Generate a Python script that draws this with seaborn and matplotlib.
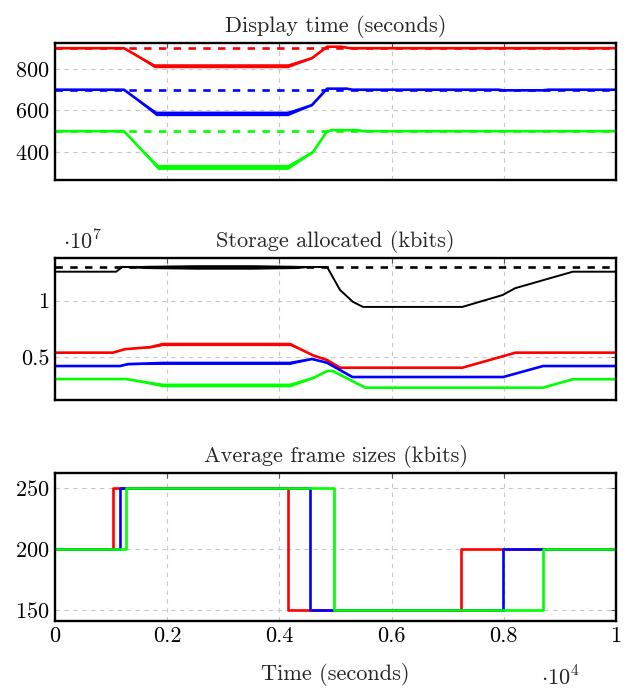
import numpy as np
import pandas as pd
import matplotlib
matplotlib.use("Agg")
import matplotlib.pyplot as plt
import seaborn as sns
from matplotlib.ticker import FuncFormatter, FixedLocator

# ---------------- data ----------------
# Display time (seconds)
disp_red_t = [0, 1230, 1770, 4150, 4580, 4850, 5100, 5250, 10000]
disp_red_v = [900, 900, 815, 815, 852, 907, 907, 900, 900]
disp_red_b = [0, 0, 9, 9, 3, 0, 0, 0, 0]
disp_blue_t = [0, 1230, 1800, 4150, 4580, 4850, 5200, 5300, 7900, 8000, 8700, 8800, 10000]
disp_blue_v = [700, 700, 586, 586, 626, 705, 705, 700, 700, 697, 697, 700, 700]
disp_blue_b = [0, 0, 11, 11, 3, 0, 0, 0, 0, 0, 0, 0, 0]
disp_green_t = [0, 1230, 1830, 4150, 4600, 4850, 4950, 5400, 5500, 10000]
disp_green_v = [500, 500, 328, 328, 400, 500, 505, 505, 500, 500]
disp_green_b = [0, 0, 12, 12, 3, 0, 0, 0, 0, 0]
disp_targets = [900, 700, 500]

# Storage allocated (kbits)
stor_black_t = [0, 1090, 1200, 1300, 1600, 2500, 3500, 4300, 4500, 4850, 5080, 5310, 5490, 7260, 7980, 8200, 9230, 10000]
stor_black_v = [1.256e7, 1.256e7, 1.298e7, 1.298e7, 1.298e7, 1.298e7, 1.298e7, 1.298e7, 1.298e7, 1.298e7,
                1.095e7, 0.99e7, 0.945e7, 0.945e7, 1.05e7, 1.11e7, 1.256e7, 1.256e7]
stor_black_b = [0, 0, 0, 0.006e7, 0.014e7, 0.02e7, 0.02e7, 0.014e7, 0.005e7, 0, 0, 0, 0, 0, 0, 0, 0, 0]
stor_target = 1.30e7
stor_red_t = [0, 1030, 1250, 1700, 1920, 4190, 4600, 4850, 5080, 7260, 8210, 10000]
stor_red_v = [0.541e7, 0.541e7, 0.572e7, 0.59e7, 0.617e7, 0.617e7, 0.517e7, 0.476e7, 0.408e7, 0.408e7, 0.541e7, 0.541e7]
stor_red_b = [0, 0, 0, 0.007e7, 0.014e7, 0.014e7, 0, 0, 0, 0, 0, 0]
stor_blue_t = [0, 1160, 1300, 1920, 4190, 4580, 4850, 5300, 7990, 8700, 10000]
stor_blue_v = [0.423e7, 0.423e7, 0.44e7, 0.45e7, 0.45e7, 0.485e7, 0.452e7, 0.326e7, 0.326e7, 0.423e7, 0.423e7]
stor_blue_b = [0, 0, 0.005e7, 0.013e7, 0.013e7, 0.003e7, 0, 0, 0, 0, 0]
stor_green_t = [0, 1266, 1920, 4190, 4600, 4850, 4950, 5530, 8700, 9230, 10000]
stor_green_v = [0.308e7, 0.308e7, 0.255e7, 0.255e7, 0.317e7, 0.379e7, 0.379e7, 0.232e7, 0.232e7, 0.306e7, 0.306e7]
stor_green_b = [0, 0, 0.016e7, 0.016e7, 0.005e7, 0, 0, 0, 0, 0, 0]

# Average frame sizes (kbits)
frame_red_t = [0, 1034, 4153, 7237, 10000]
frame_red_v = [200, 250, 150, 200, 200]
frame_blue_t = [0, 1159, 4545, 7986, 10000]
frame_blue_v = [200, 250, 150, 200, 200]
frame_green_t = [0, 1266, 4973, 8699, 10000]
frame_green_v = [200, 250, 150, 200, 200]

x_ticks = [0, 2000, 4000, 6000, 8000, 10000]
disp_yticks = [400, 600, 800]
stor_yticks = [0.5e7, 1.0e7]
frame_yticks = [150, 200, 250]

titles = ["Display time (seconds)", "Storage allocated (kbits)", "Average frame sizes (kbits)"]
xlabel = "Time (seconds)"

RED, BLUE, GREEN, BLACK = "#ff0000", "#0000ff", "#00ff00", "#000000"
FS = 16

# ---------------- style ----------------
sns.set_theme(style="whitegrid")
plt.rcParams.update({
    "font.family": ["cmr10", "DejaVu Serif"],
    "mathtext.fontset": "cm",
    "axes.formatter.use_mathtext": True,
    "axes.unicode_minus": False,
    "font.size": FS,
})

fig = plt.figure(figsize=(6.34, 6.91), dpi=100)
L, R = 55 / 634, 616 / 634
H = 691
ax1 = fig.add_axes([L, 1 - 180 / H, R - L, (180 - 43) / H])
ax2 = fig.add_axes([L, 1 - 400 / H, R - L, (400 - 258) / H])
ax3 = fig.add_axes([L, 1 - 621 / H, R - L, (621 - 473) / H])

LW = 1.9
DASH = (0, (2.8, 2.8))


def line(ax, t, v, color, lw=LW, band=None, **kw):
    df = pd.DataFrame({"t": t, "v": v})
    sns.lineplot(data=df, x="t", y="v", color=color, lw=lw, ax=ax,
                 estimator=None, sort=False, **kw)
    if band is not None:
        t_a, v_a, b_a = np.asarray(t, float), np.asarray(v, float), np.asarray(band, float)
        ax.fill_between(t_a, v_a - b_a, v_a + b_a, color=color, lw=0)


# Panel 1
line(ax1, disp_red_t, disp_red_v, RED, band=disp_red_b)
line(ax1, disp_blue_t, disp_blue_v, BLUE, band=disp_blue_b)
line(ax1, disp_green_t, disp_green_v, GREEN, band=disp_green_b)
for yv, c in zip(disp_targets, [RED, BLUE, GREEN]):
    ax1.axhline(yv, color=c, lw=LW, ls=DASH)
ax1.set_ylim(265, 925)
ax1.yaxis.set_major_locator(FixedLocator(disp_yticks))

# Panel 2
line(ax2, stor_red_t, stor_red_v, RED, band=stor_red_b)
line(ax2, stor_blue_t, stor_blue_v, BLUE, band=stor_blue_b)
line(ax2, stor_green_t, stor_green_v, GREEN, band=stor_green_b)
line(ax2, stor_black_t, stor_black_v, BLACK, lw=1.4, band=stor_black_b)
ax2.axhline(stor_target, color=BLACK, lw=LW, ls=DASH)
ax2.set_ylim(0.123e7, 1.377e7)
ax2.yaxis.set_major_locator(FixedLocator(stor_yticks))
ax2.yaxis.set_major_formatter(FuncFormatter(lambda y, p: f"{y / 1e7:g}"))
ax2.text(0.015, 1.03, r"$\cdot 10^{7}$", transform=ax2.transAxes, ha="left", va="bottom", fontsize=FS)

# Panel 3
line(ax3, frame_red_t, frame_red_v, RED, drawstyle="steps-post")
line(ax3, frame_blue_t, frame_blue_v, BLUE, drawstyle="steps-post")
line(ax3, frame_green_t, frame_green_v, GREEN, drawstyle="steps-post")
ax3.set_ylim(141, 262.6)
ax3.yaxis.set_major_locator(FixedLocator(frame_yticks))
ax3.set_xlabel(xlabel, fontsize=FS, labelpad=12)
ax3.text(0.90, -0.30, r"$\cdot 10^{4}$", transform=ax3.transAxes, ha="center", va="top", fontsize=FS)

for ax, ttl in zip([ax1, ax2, ax3], titles):
    ax.set_xlim(0, 10000)
    ax.xaxis.set_major_locator(FixedLocator(x_ticks))
    ax.xaxis.set_major_formatter(FuncFormatter(lambda x, p: f"{x / 1e4:g}"))
    ax.set_title(ttl, fontsize=FS, pad=8)
    ax.set_ylabel("")
    if ax is not ax3:
        ax.set_xlabel("")
        ax.tick_params(axis="x", labelbottom=False)
    ax.grid(True, color="#c8c8c8", ls=(0, (4, 4)), lw=0.8)
    ax.set_axisbelow(True)
    ax.tick_params(direction="in", length=3.5, width=0.8, colors="#555555",
                   labelcolor="black", labelsize=FS, top=True, right=True, pad=4)
    for s in ax.spines.values():
        s.set_color("black")
        s.set_linewidth(1.7)
        s.set_zorder(5)

fig.savefig("out.png", dpi=100)
